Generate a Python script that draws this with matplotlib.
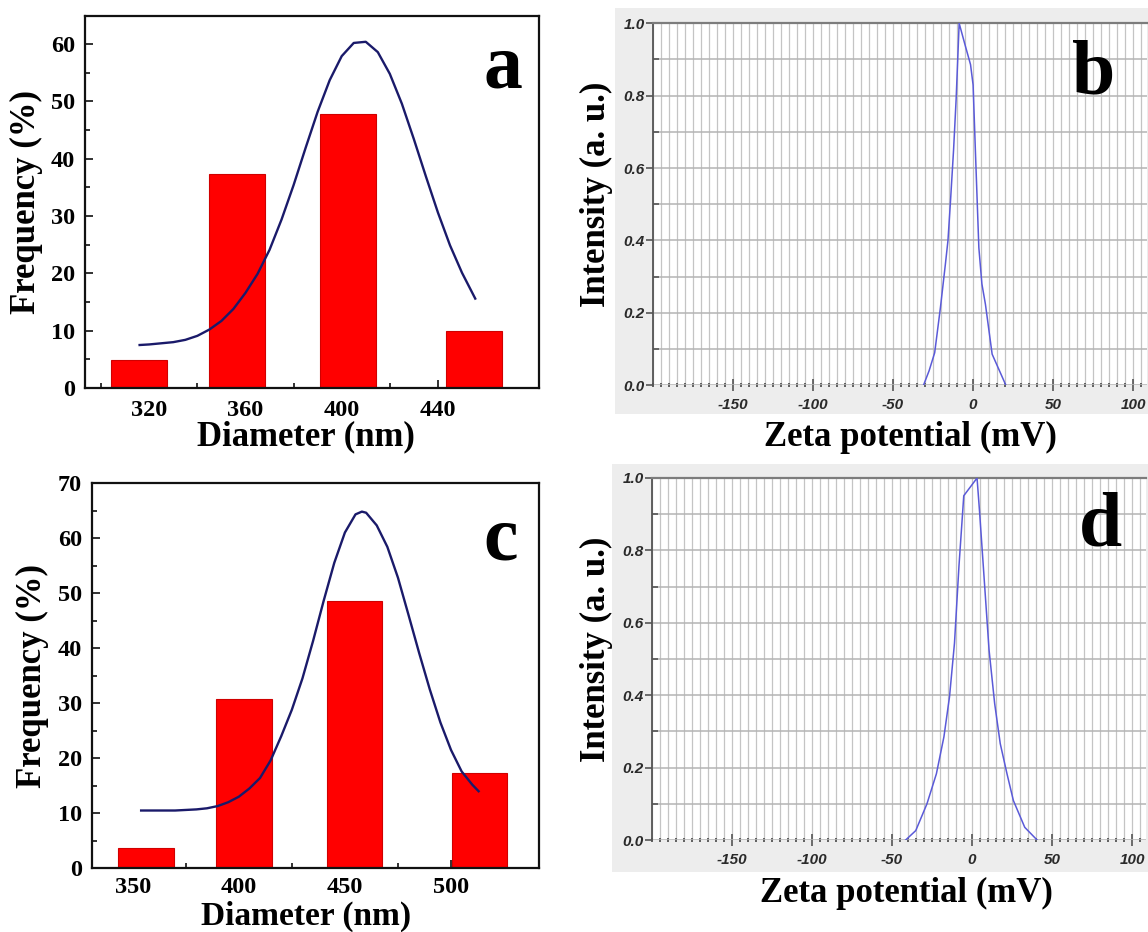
import matplotlib

matplotlib.use("Agg")
import matplotlib.pyplot as plt
from matplotlib.font_manager import FontProperties
from matplotlib.patches import Rectangle
from matplotlib.ticker import FixedLocator, MultipleLocator


W, H = 1148, 932
SERIF = "Liberation Serif"
SANS = "Liberation Sans"
plt.rcParams["axes.unicode_minus"] = False

# panel a: size distribution, sample 1
a_centers = [315.8, 356.5, 402.6, 455.0]
a_freq = [4.9, 37.4, 47.8, 10.0]
a_fit_x = [316, 320, 325, 330, 335, 340, 345, 350, 355, 360, 365, 370, 375, 380, 385,
           390, 395, 400, 405, 410, 415, 420, 425, 430, 435, 440, 445, 450, 455.5]
a_fit_y = [7.5, 7.6, 7.8, 8.0, 8.4, 9.1, 10.2, 11.7, 13.8, 16.6, 19.9, 24.1, 29.4, 35.4, 41.9,
           48.2, 53.7, 57.9, 60.2, 60.4, 58.6, 54.8, 49.6, 43.4, 36.9, 30.6, 24.9, 20.1, 15.6]

# panel c: size distribution, sample 2
c_centers = [356.3, 402.4, 454.5, 513.4]
c_freq = [3.75, 30.8, 48.5, 17.4]
c_fit_x = [354, 360, 365, 370, 375, 380, 385, 390, 395, 400, 405, 410, 415, 420, 425, 430, 435,
           440, 445, 450, 455, 458, 460, 465, 470, 475, 480, 485, 490, 495, 500, 505, 510, 513]
c_fit_y = [10.5, 10.5, 10.5, 10.5, 10.6, 10.7, 10.9, 11.3, 12.0, 13.0, 14.5, 16.4, 19.6, 24.0,
           28.8, 34.5, 41.3, 48.6, 55.5, 61.0, 64.3, 64.8, 64.6, 62.3, 58.4, 52.8, 46.0, 39.1,
           32.5, 26.5, 21.5, 17.6, 15.2, 14.0]

# panel b: zeta potential, sample 1
b_zeta = [-31, -27.5, -24, -20.4, -17.3, -15.7, -14.1, -12.2, -10.6, -8.7, -5, -1.6,
          0, 1.5, 3.6, 5.5, 7.7, 11.9, 16, 20.5]
b_int = [0.0, 0.04, 0.09, 0.215, 0.335, 0.40, 0.51, 0.65, 0.79, 1.0, 0.94, 0.886,
         0.83, 0.64, 0.38, 0.28, 0.224, 0.086, 0.045, 0.0]

# panel d: zeta potential, sample 2
d_zeta = [-41.5, -35.2, -28.2, -22.3, -17.6, -14.1, -11.0, -8.2, -5.2, 3.1, 4.7, 7.0,
          10.6, 14.1, 17.6, 21.8, 25.8, 32.9, 40.6]
d_int = [0.0, 0.026, 0.10, 0.183, 0.285, 0.396, 0.544, 0.757, 0.951, 1.0, 0.905, 0.757,
         0.525, 0.377, 0.266, 0.183, 0.109, 0.035, 0.0]

zeta_ticks = [-150, -100, -50, 0, 50, 100]


def px_box(left: float, top: float, right: float, bottom: float) -> list[float]:
    return [left / W, 1 - bottom / H, (right - left) / W, (bottom - top) / H]


def fig_text(fig, x: float, y: float, s: str, **kw):
    return fig.text(x / W, 1 - y / H, s, **kw)


def draw_hist(fig, box, centers, freq, bar_w, fit_x, fit_y, *, xlim, ylim, xmajor, xminor,
              xpad=9):
    ax = fig.add_axes(box)
    ax.bar(centers, freq, width=bar_w, color="#ff0000", edgecolor="#d00000", linewidth=0.8, zorder=2)
    ax.plot(fit_x, fit_y, color="#1a1a6a", linewidth=1.7, zorder=3)
    ax.set_xlim(*xlim)
    ax.set_ylim(*ylim)
    ax.xaxis.set_major_locator(FixedLocator(xmajor))
    ax.xaxis.set_minor_locator(FixedLocator(xminor))
    ax.yaxis.set_major_locator(MultipleLocator(10))
    ax.yaxis.set_minor_locator(MultipleLocator(5))
    ax.tick_params(which="both", direction="in", width=1.3, color="#222222")
    ax.tick_params(which="major", length=6)
    ax.tick_params(which="minor", length=3.5)
    ax.tick_params(axis="x", pad=xpad)
    ax.tick_params(axis="y", pad=7)
    for lab in ax.get_xticklabels() + ax.get_yticklabels():
        lab.set_fontfamily(SERIF)
        lab.set_fontweight("bold")
        lab.set_fontsize(17.5)
    for sp in ax.spines.values():
        sp.set_linewidth(1.6)
        sp.set_color("#111111")
    ax.set_ylabel("Frequency (%)", fontfamily=SERIF, fontweight="bold", fontsize=25, labelpad=6)
    return ax


def draw_zeta(fig, box, bg, zeta, intensity):
    fig.add_artist(Rectangle((bg[0] / W, 1 - bg[3] / H), (bg[2] - bg[0]) / W, (bg[3] - bg[1]) / H,
                             transform=fig.transFigure, facecolor="#ededed", edgecolor="none",
                             zorder=0))
    ax = fig.add_axes(box)
    ax.set_facecolor("white")
    ax.set_xlim(-200, 108.6)
    ax.set_ylim(0, 1.0)
    ax.xaxis.set_major_locator(FixedLocator(zeta_ticks))
    ax.xaxis.set_minor_locator(MultipleLocator(5))
    ax.yaxis.set_major_locator(MultipleLocator(0.2))
    ax.yaxis.set_minor_locator(MultipleLocator(0.1))
    ax.grid(which="both", axis="x", color="#c4c4c4", linewidth=0.9)
    ax.grid(which="both", axis="y", color="#b4b4b4", linewidth=1.1)
    ax.set_axisbelow(True)
    ax.plot(zeta, intensity, color="#5a5ad8", linewidth=1.1, zorder=3)

    ax.spines["bottom"].set_visible(False)
    ax.spines["right"].set_visible(False)
    ax.spines["left"].set_color("#555555")
    ax.spines["left"].set_linewidth(1.3)
    ax.spines["top"].set_color("#7c7c7c")
    ax.spines["top"].set_linewidth(1.6)

    ax.tick_params(axis="x", which="major", direction="inout", length=8, width=1.2,
                   color="#555555", pad=5)
    ax.tick_params(axis="x", which="minor", direction="inout", length=2.5, width=1.3,
                   color="#555555")
    ax.tick_params(axis="y", which="major", direction="out", length=5, width=1.2,
                   color="#555555", pad=1)
    ax.tick_params(axis="y", which="minor", direction="in", length=4, width=1.2,
                   color="#555555")
    ax.yaxis.set_major_formatter(lambda v, pos: f"{v:.1f}")
    fp = FontProperties(family=SANS, style="italic", weight="bold", size=11)
    for lab in ax.get_xticklabels() + ax.get_yticklabels():
        lab.set_fontproperties(fp)
        lab.set_color("#2a2a2a")
    return ax


fig = plt.figure(figsize=(W / 100, H / 100), dpi=100)
fig.patch.set_facecolor("white")

draw_hist(fig, px_box(85, 16, 539, 388), a_centers, a_freq, 23.3, a_fit_x, a_fit_y,
          xlim=(293.3, 482), ylim=(0, 64.9),
          xmajor=[320, 360, 400, 440], xminor=[300, 340, 380, 420, 460])
draw_hist(fig, px_box(91.7, 483, 539.3, 868.3), c_centers, c_freq, 26.3, c_fit_x, c_fit_y,
          xlim=(330.7, 541.6), ylim=(0, 70),
          xmajor=[350, 400, 450, 500], xminor=[375, 425, 475, 525], xpad=6)

draw_zeta(fig, px_box(653, 23.3, 1146.9, 385.3), (615, 8, 1148, 414), b_zeta, b_int)
draw_zeta(fig, px_box(652, 478, 1145.9, 840), (612, 464, 1148, 872), d_zeta, d_int)

label_kw = dict(fontfamily=SERIF, fontweight="bold", fontsize=25, ha="center")
fig_text(fig, 306, 445, "Diameter (nm)", va="baseline", **label_kw)
fig_text(fig, 306, 925, "Diameter (nm)", va="baseline",
         **{**label_kw, "fontsize": 24})
fig_text(fig, 910, 437, "Zeta potential (mV)", va="center", **label_kw)
fig_text(fig, 906, 893, "Zeta potential (mV)", va="center", **label_kw)
fig_text(fig, 596, 194, "Intensity (a. u.)", rotation=90, va="center", **label_kw)
fig_text(fig, 596, 649, "Intensity (a. u.)", rotation=90, va="center", **label_kw)

letter_kw = dict(fontfamily=SERIF, fontweight="bold", fontsize=56, ha="center", va="baseline")
fig_text(fig, 503, 87, "a", **letter_kw)
fig_text(fig, 1094, 94, "b", **letter_kw)
fig_text(fig, 501, 560, "c", **letter_kw)
fig_text(fig, 1100, 546, "d", **letter_kw)

fig.savefig("out.png", dpi=100)
